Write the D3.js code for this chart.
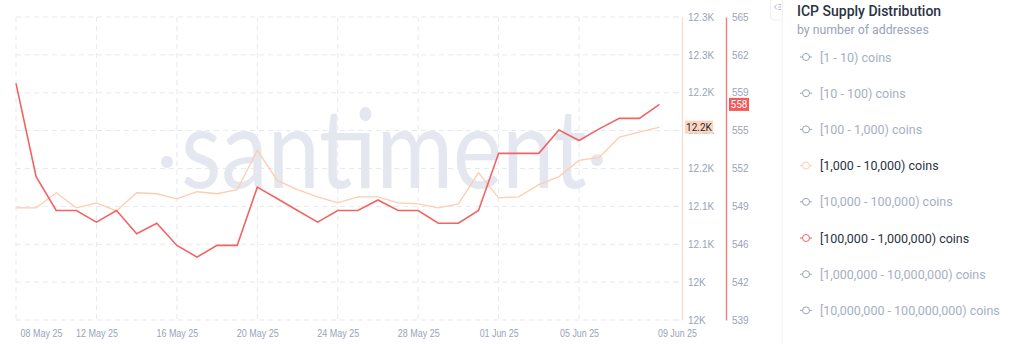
<!DOCTYPE html>
<html>
<head>
<meta charset="utf-8">
<title>ICP Supply Distribution</title>
<script src="https://d3js.org/d3.v7.min.js"></script>
<style>
    body { margin: 0; background: #fff; }
    svg { display: block; font-family: Roboto, "Liberation Sans", sans-serif; }
</style>
</head>
<body>
<svg width="1024" height="344"></svg>
<script>
    // data
    var dates = ["2025-05-08","2025-05-09","2025-05-10","2025-05-11","2025-05-12","2025-05-13","2025-05-14",
        "2025-05-15","2025-05-16","2025-05-17","2025-05-18","2025-05-19","2025-05-20","2025-05-21","2025-05-22",
        "2025-05-23","2025-05-24","2025-05-25","2025-05-26","2025-05-27","2025-05-28","2025-05-29","2025-05-30",
        "2025-05-31","2025-06-01","2025-06-02","2025-06-03","2025-06-04","2025-06-05","2025-06-06","2025-06-07",
        "2025-06-08","2025-06-09"];
    // [100,000 - 1,000,000) coins, right axis
    var bigHolders = [559.3, 551.3, 548.4, 548.4, 547.4, 548.4, 546.4, 547.3, 545.4, 544.4, 545.4, 545.4,
        550.4, 549.4, 548.4, 547.4, 548.4, 548.4, 549.3, 548.4, 548.4, 547.3, 547.3, 548.4,
        553.3, 553.3, 553.3, 555.3, 554.4, 555.4, 556.3, 556.3, 557.5];
    // [1,000 - 10,000) coins, left of the two axes
    var midHolders = [12111, 12111, 12126, 12111, 12116, 12108, 12126, 12125, 12120, 12127, 12125, 12129,
        12168, 12138, 12129, 12122, 12116, 12122, 12122, 12116, 12115, 12111, 12115, 12146,
        12121, 12122, 12134, 12142, 12158, 12161, 12181, 12186, 12191];
    var tickDates = ["2025-05-08","2025-05-12","2025-05-16","2025-05-20","2025-05-24","2025-05-28",
        "2025-06-01","2025-06-05","2025-06-09"];
    var redTicks = [539, 542.25, 545.5, 548.75, 552, 555.25, 558.5, 561.75, 565];
    var orangeTicks = [12000, 12037.5, 12075, 12112.5, 12150, 12187.5, 12225, 12262.5, 12300];
    var legendItems = ["[1 - 10) coins", "[10 - 100) coins", "[100 - 1,000) coins", "[1,000 - 10,000) coins",
        "[10,000 - 100,000) coins", "[100,000 - 1,000,000) coins", "[1,000,000 - 10,000,000) coins",
        "[10,000,000 - 100,000,000) coins"];

    var red = "#f26464", orange = "#fdcdb0", grey = "#9aa3bb";

    var svg = d3.select("svg"),
        margin = {top: 17, left: 16, bottom: 320},
        plotRight = 682;

    var parse = d3.timeParse("%Y-%m-%d");
    var x = d3.scaleTime()
        .domain([parse(dates[0]), parse(dates[dates.length - 1])])
        .range([16, 659.5]);
    var yRed = d3.scaleLinear().domain([539, 565]).range([margin.bottom, margin.top]);
    var yOrange = d3.scaleLinear().domain([12000, 12300]).range([margin.bottom, margin.top]);

    // watermark
    svg.append("text")
        .attr("x", 181).attr("y", 188)
        .attr("textLength", 406)
        .attr("lengthAdjust", "spacingAndGlyphs")
        .style("font-family", "Lato, 'Open Sans', sans-serif")
        .style("font-weight", 400)
        .style("font-size", "110px")
        .attr("fill", "#e4e7f0")
        .text("santiment");
    svg.append("circle").attr("cx", 167).attr("cy", 162).attr("r", 6).attr("fill", "#e4e7f0");
    svg.append("circle").attr("cx", 597).attr("cy", 160).attr("r", 6).attr("fill", "#e4e7f0");

    // grid
    var grid = svg.append("g").attr("stroke", "#e6e9f0").attr("stroke-dasharray", "5,4");
    grid.selectAll(".h")
        .data(redTicks)
        .enter().append("line")
        .attr("x1", margin.left).attr("x2", plotRight - 8)
        .attr("y1", function(d) { return yRed(d); })
        .attr("y2", function(d) { return yRed(d); });
    grid.selectAll(".v")
        .data(tickDates.slice(0, -1))
        .enter().append("line")
        .attr("x1", function(d) { return x(parse(d)); })
        .attr("x2", function(d) { return x(parse(d)); })
        .attr("y1", margin.top).attr("y2", margin.bottom);

    // x axis
    var xAxis = svg.append("g")
        .attr("transform", "translate(0," + margin.bottom + ")")
        .call(d3.axisBottom(x)
            .tickValues(tickDates.map(parse))
            .tickFormat(d3.timeFormat("%d %b %y"))
            .tickSize(0)
            .tickPadding(10));
    xAxis.select(".domain").remove();
    xAxis.selectAll("text")
        .attr("fill", grey)
        .attr("textLength", function(d) { return d.getMonth() === 5 ? 39 : 42; })
        .attr("lengthAdjust", "spacingAndGlyphs")
        .style("font-size", "10.5px");
    xAxis.selectAll(".tick").filter(function(d, i) { return i === 0; }).select("text")
        .attr("text-anchor", "start").attr("dx", 4);
    xAxis.selectAll(".tick").filter(function(d, i) { return i === tickDates.length - 1; }).select("text")
        .attr("text-anchor", "start").attr("dx", -2);

    // orange axis
    var oAxis = svg.append("g")
        .attr("transform", "translate(" + plotRight + ",0)")
        .call(d3.axisRight(yOrange)
            .tickValues(orangeTicks)
            .tickFormat(function(d) { return d3.format(".3~s")(Math.round(d / 100) * 100).replace("k", "K"); })
            .tickSize(0)
            .tickPadding(6));
    oAxis.select(".domain").attr("stroke", "#ffd9c4").attr("stroke-width", 1.2);
    oAxis.selectAll("text").attr("fill", grey).style("font-size", "10px");
    svg.append("g").selectAll("line")
        .data(orangeTicks)
        .enter().append("line")
        .attr("x1", plotRight - 8).attr("x2", plotRight - 3)
        .attr("y1", function(d) { return yOrange(d); })
        .attr("y2", function(d) { return yOrange(d); })
        .attr("stroke", "#dfe3ec");

    // red axis
    var rAxis = svg.append("g")
        .attr("transform", "translate(726,0)")
        .call(d3.axisRight(yRed)
            .tickValues(redTicks)
            .tickFormat(function(d) { return Math.round(d); })
            .tickSize(0)
            .tickPadding(6));
    rAxis.select(".domain").attr("stroke", "#f47c7c").attr("stroke-width", 1.4);
    rAxis.selectAll("text").attr("fill", grey).style("font-size", "10px");

    // lines
    var orangeLine = d3.line()
        .x(function(d, i) { return x(parse(dates[i])); })
        .y(function(d) { return yOrange(d); });
    var redLine = d3.line()
        .x(function(d, i) { return x(parse(dates[i])); })
        .y(function(d) { return yRed(d); });

    svg.append("path").datum(midHolders)
        .attr("fill", "none").attr("stroke", orange).attr("stroke-width", 1.3)
        .attr("d", orangeLine);
    svg.append("path").datum(bigHolders)
        .attr("fill", "none").attr("stroke", red).attr("stroke-width", 1.6)
        .attr("d", redLine);

    // last value badges
    var lastO = midHolders[midHolders.length - 1],
        lastR = bigHolders[bigHolders.length - 1];
    svg.append("rect")
        .attr("x", 685).attr("y", yOrange(lastO) - 6.5)
        .attr("width", 28).attr("height", 13).attr("fill", "#fdd5bd");
    svg.append("text")
        .attr("x", 699).attr("y", yOrange(lastO) + 3.5)
        .attr("text-anchor", "middle").attr("fill", "#22283a")
        .style("font-size", "10px")
        .text(d3.format(".3~s")(Math.round(lastO / 100) * 100).replace("k", "K"));
    svg.append("rect")
        .attr("x", 729).attr("y", yRed(lastR) - 6.5)
        .attr("width", 20).attr("height", 13).attr("fill", "#f25a5a");
    svg.append("text")
        .attr("x", 739).attr("y", yRed(lastR) + 3.5)
        .attr("text-anchor", "middle").attr("fill", "#fff")
        .style("font-size", "10px")
        .text(Math.round(lastR));

    // legend panel
    svg.append("line")
        .attr("x1", 782).attr("x2", 782).attr("y1", 20).attr("y2", 344)
        .attr("stroke", "#eef0f5");
    svg.append("rect")
        .attr("x", 770.5).attr("y", -1).attr("width", 12).attr("height", 21).attr("rx", 3)
        .attr("fill", "#fff").attr("stroke", "#eef0f5");
    svg.append("path")
        .attr("d", "M777,4.5 L774.5,7 L777,9.5 M778.5,4.5 H781 M778.5,7 H781 M778.5,9.5 H781")
        .attr("fill", "none").attr("stroke", "#a3abc2").attr("stroke-width", 0.9);

    svg.append("text")
        .attr("x", 797).attr("y", 16)
        .attr("fill", "#2b3345")
        .style("font-size", "14px").style("font-weight", 500)
        .text("ICP Supply Distribution");
    svg.append("text")
        .attr("x", 797).attr("y", 34)
        .attr("fill", grey)
        .style("font-size", "12.3px")
        .text("by number of addresses");

    var activeColor = {3: orange, 5: red};
    var item = svg.append("g").selectAll("g")
        .data(legendItems)
        .enter().append("g")
        .attr("transform", function(d, i) { return "translate(0," + (57 + i * 36.2) + ")"; });
    item.append("line")
        .attr("x1", 800).attr("x2", 812)
        .attr("stroke", function(d, i) { return activeColor[i] || "#9aa3bb"; });
    item.append("circle")
        .attr("cx", 806).attr("r", 3.5)
        .attr("fill", "#fff")
        .attr("stroke", function(d, i) { return activeColor[i] || "#9aa3bb"; });
    item.append("text")
        .attr("x", 820).attr("y", 4.5)
        .attr("fill", function(d, i) { return activeColor[i] ? "#2b3345" : "#a7afc5"; })
        .style("font-size", "12.5px")
        .text(function(d) { return d; });
</script>
</body>
</html>
